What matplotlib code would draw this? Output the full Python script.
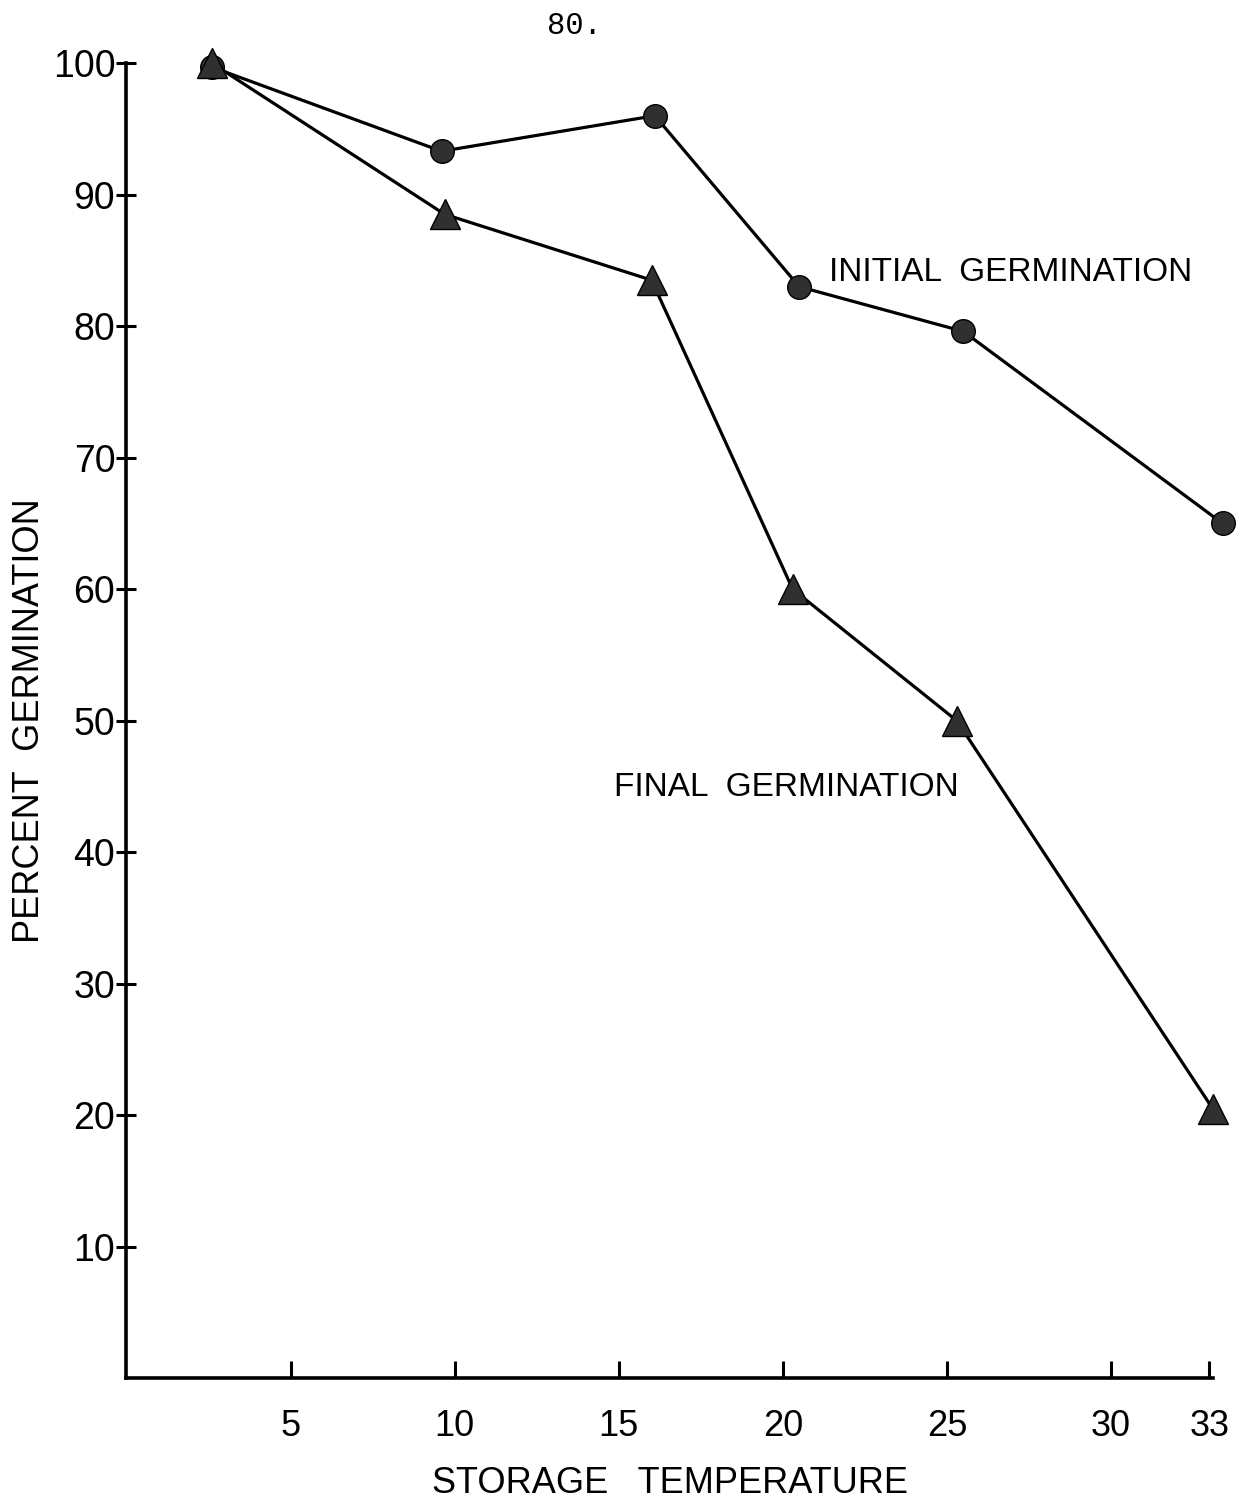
import matplotlib.pyplot as plt

# storage temperature (x) and germination percent
temp_initial = [2.6, 9.6, 16.1, 20.5, 25.5, 33.4]
pct_initial = [99.7, 93.3, 96.0, 83.0, 79.6, 65.0]

temp_final = [2.6, 9.7, 16.0, 20.3, 25.3, 33.1]
pct_final = [100.0, 88.5, 83.5, 60.0, 50.0, 20.5]

x_ticks = [5, 10, 15, 20, 25, 30, 33]
y_ticks = [10, 20, 30, 40, 50, 60, 70, 80, 90, 100]

plt.rcParams['font.family'] = ['Liberation Sans', 'DejaVu Sans']

fig = plt.figure(figsize=(12.4, 15.03), dpi=100)
ax = fig.add_axes([0.102, 0.083, 0.876, 0.875])

ax.plot(temp_initial, pct_initial, color='black', lw=2.3, marker='o',
        markersize=17, markerfacecolor='#303030', markeredgecolor='black',
        clip_on=False, zorder=3)
ax.plot(temp_final, pct_final, color='black', lw=2.3, marker='^',
        markersize=21, markerfacecolor='#303030', markeredgecolor='black',
        clip_on=False, zorder=3)

ax.set_xlim(0, 33.1)
ax.set_ylim(0, 100)

for side in ['top', 'right']:
    ax.spines[side].set_visible(False)
for side in ['left', 'bottom']:
    ax.spines[side].set_linewidth(2.6)

ax.set_xticks(x_ticks)
ax.set_yticks(y_ticks)
ax.tick_params(axis='x', direction='in', length=12, width=2.2, pad=22,
               labelsize=26)
ax.tick_params(axis='y', direction='inout', length=14, width=2.2, pad=1,
               labelsize=27)

ax.set_xlabel('STORAGE   TEMPERATURE', fontsize=26, labelpad=16)
ax.set_ylabel('PERCENT  GERMINATION', fontsize=26, labelpad=4)

ax.text(21.4, 83.4, 'INITIAL  GERMINATION', fontsize=24, ha='left',
        va='baseline')
ax.text(14.85, 44.3, 'FINAL  GERMINATION', fontsize=24, ha='left',
        va='baseline')

fig.text(0.463, 0.983, '80.', fontsize=22, family='Liberation Mono',
         ha='center', va='center')

fig.savefig('out.png', dpi=100, facecolor='white')
